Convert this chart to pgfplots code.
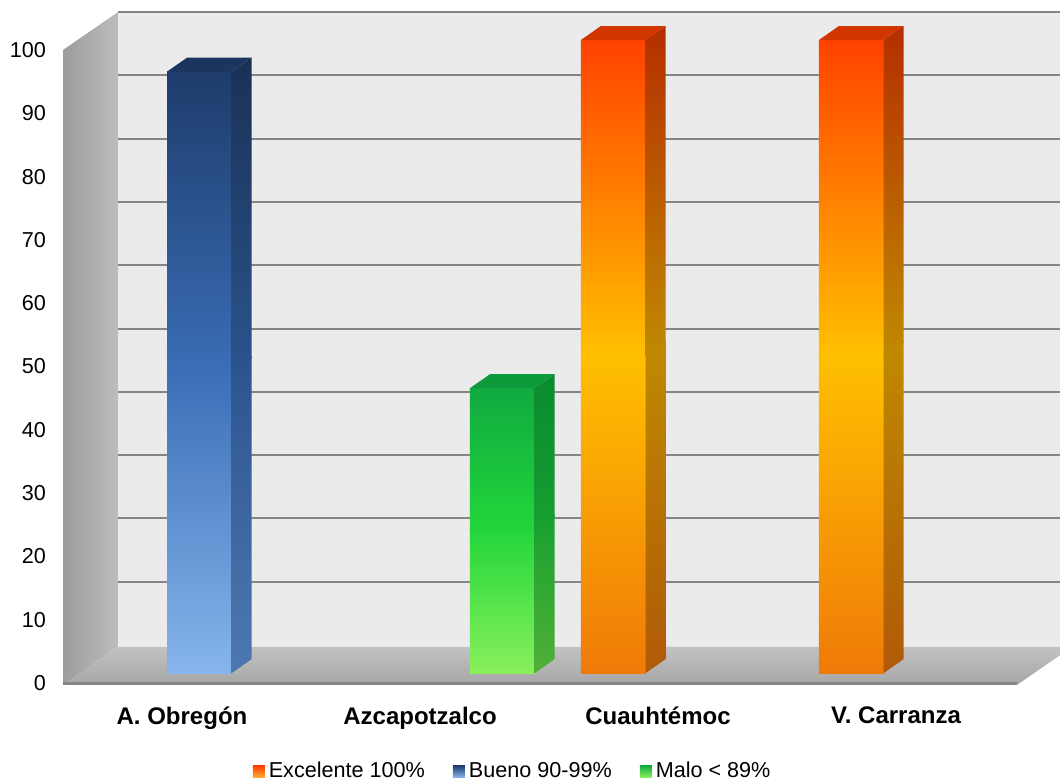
\documentclass[border=0pt]{standalone}
\usepackage{fontspec}
\setmainfont{Liberation Sans}
\usepackage{pgfplots}
\pgfplotsset{compat=1.18}

\definecolor{excTop}{HTML}{FF4200}
\definecolor{excMid}{HTML}{FFC000}
\definecolor{excBot}{HTML}{F07A08}
\definecolor{excSTop}{HTML}{B52E00}
\definecolor{excSMid}{HTML}{C08A00}
\definecolor{excSBot}{HTML}{B05A08}
\definecolor{excCap}{HTML}{D23600}
\definecolor{bueTop}{HTML}{1E3C6C}
\definecolor{bueMid}{HTML}{3A6EB6}
\definecolor{bueBot}{HTML}{86B5EC}
\definecolor{bueSTop}{HTML}{1A3155}
\definecolor{bueSMid}{HTML}{2B548E}
\definecolor{bueSBot}{HTML}{4E78B0}
\definecolor{bueCap}{HTML}{1C355E}
\definecolor{malTop}{HTML}{10AA40}
\definecolor{malMid}{HTML}{22D63A}
\definecolor{malBot}{HTML}{88F05C}
\definecolor{malSTop}{HTML}{0A8A30}
\definecolor{malSMid}{HTML}{18A030}
\definecolor{malSBot}{HTML}{50B038}
\definecolor{malCap}{HTML}{0D9A3A}
\definecolor{wallBack}{HTML}{EBEBEB}
\definecolor{wallLeftA}{HTML}{9C9C9C}
\definecolor{wallLeftB}{HTML}{BDBDBD}
\definecolor{floorFront}{HTML}{A6A6A6}
\definecolor{floorBack}{HTML}{C2C2C2}
\definecolor{gridgray}{HTML}{858585}
\definecolor{legExcTop}{HTML}{FF3A00}
\definecolor{legExcBot}{HTML}{FFB030}

\pgfplotsset{
  exc front lo/.style={top color=excMid, bottom color=excBot},
  exc front hi/.style={top color=excTop, bottom color=excMid},
  exc side lo/.style={top color=excSMid, bottom color=excSBot},
  exc side hi/.style={top color=excSTop, bottom color=excSMid},
  exc cap/.style={fill=excCap},
  bue front lo/.style={top color=bueMid, bottom color=bueBot},
  bue front hi/.style={top color=bueTop, bottom color=bueMid},
  bue side lo/.style={top color=bueSMid, bottom color=bueSBot},
  bue side hi/.style={top color=bueSTop, bottom color=bueSMid},
  bue cap/.style={fill=bueCap},
  mal front lo/.style={top color=malMid, bottom color=malBot},
  mal front hi/.style={top color=malTop, bottom color=malMid},
  mal side lo/.style={top color=malSMid, bottom color=malSBot},
  mal side hi/.style={top color=malSTop, bottom color=malSMid},
  mal cap/.style={fill=malCap},
}

% #1 = left edge of front face (category units), #2 = value, #3 = series style prefix
\newcommand\drawbar[3]{%
  \pgfmathsetmacro\bL{#1}%
  \pgfmathsetmacro\bR{#1+0.272}%
  \pgfmathsetmacro\bLd{#1+0.084}%
  \pgfmathsetmacro\bRd{#1+0.356}%
  \pgfmathsetmacro\bT{1.58+#2}%
  \pgfmathsetmacro\bM{1.58+#2/2}%
  \pgfmathsetmacro\bMo{1.58+#2/2+0.4}%
  \pgfmathsetmacro\bTd{3.79+#2}%
  \pgfmathsetmacro\bMd{3.79+#2/2}%
  \pgfmathsetmacro\bMdo{3.79+#2/2+0.4}%
  \edef\doit{%
    \noexpand\addplot[forget plot, draw=none, #3 front lo] coordinates {(\bL,1.58) (\bR,1.58) (\bR,\bMo) (\bL,\bMo)};
    \noexpand\addplot[forget plot, draw=none, #3 front hi] coordinates {(\bL,\bM) (\bR,\bM) (\bR,\bT) (\bL,\bT)};
    \noexpand\addplot[forget plot, draw=none, #3 side lo] coordinates {(\bR,1.58) (\bRd,3.79) (\bRd,\bMdo) (\bR,\bMo)};
    \noexpand\addplot[forget plot, draw=none, #3 side hi] coordinates {(\bR,\bM) (\bRd,\bMd) (\bRd,\bTd) (\bR,\bT)};
    \noexpand\addplot[forget plot, draw=none, #3 cap] coordinates {(\bL,\bT) (\bLd,\bTd) (\bRd,\bTd) (\bR,\bT)};
  }\doit}

\begin{document}
\begin{tikzpicture}
\useasboundingbox (0,0) rectangle (530pt,-391.5pt);
\begin{axis}[
  at={(31.5pt,-345pt)}, anchor=south west,
  scale only axis, width=498.5pt, height=345pt,
  xmin=-0.5, xmax=3.689, ymin=-1.1, ymax=107.9,
  clip=true,
  axis line style={draw=none},
  major tick length=0pt,
  ytick={0,10,...,100},
  xtick={0,1,2,3},
  xticklabels={A. Obregón, Azcapotzalco, Cuauhtémoc, V. Carranza},
  /pgf/number format/assume math mode=true,
  yticklabel style={font=\fontsize{10.8}{12}\selectfont, anchor=east, xshift=-5pt},
  xticklabel style={font=\fontsize{12}{14}\selectfont\bfseries, anchor=north, yshift=-5pt},
  legend style={at={(0.452,-0.118)}, anchor=center, draw=none, fill=none,
    font=\fontsize{10.8}{12}\selectfont,
    /tikz/every even column/.append style={column sep=12pt}},
  legend columns=3,
  legend cell align=left,
]
% back wall
\addplot[forget plot, draw=none, fill=wallBack] coordinates {(-0.269,5.7) (3.9,5.7) (3.9,106) (-0.269,106)};
% gridlines on back wall
\addplot[forget plot, color=gridgray, line width=1pt, unbounded coords=jump] coordinates {
  (-0.269,16) (3.9,16) (0,nan)
  (-0.269,26) (3.9,26) (0,nan)
  (-0.269,36) (3.9,36) (0,nan)
  (-0.269,46) (3.9,46) (0,nan)
  (-0.269,56) (3.9,56) (0,nan)
  (-0.269,66) (3.9,66) (0,nan)
  (-0.269,76) (3.9,76) (0,nan)
  (-0.269,86) (3.9,86) (0,nan)
  (-0.269,96) (3.9,96) (0,nan)
  (-0.269,106) (3.9,106)
};
% left wall
\addplot[forget plot, draw=none, left color=wallLeftA, right color=wallLeftB] coordinates {(-0.5,-0.3) (-0.5,100) (-0.269,106) (-0.269,5.7)};
% floor
\addplot[forget plot, draw=none, bottom color=floorFront, top color=floorBack] coordinates {(-0.5,-0.3) (3.508,-0.3) (3.739,5.7) (-0.269,5.7)};
% floor front edge
\addplot[forget plot, color=gridgray, line width=1.5pt] coordinates {(-0.5,-0.05) (3.508,-0.05)};

% bars: values 95 (Bueno), 45 (Malo), 100 (Excelente), 100 (Excelente)
\drawbar{-0.063}{95}{bue}
\drawbar{1.210}{45}{mal}
\drawbar{1.676}{100}{exc}
\drawbar{2.676}{100}{exc}

\addlegendimage{legend image code/.code={\shade[draw=none, top color=legExcTop, bottom color=legExcBot] (0pt,-3pt) rectangle (6pt,3pt);}}
\addlegendentry{Excelente 100\%}
\addlegendimage{legend image code/.code={\shade[draw=none, top color=bueTop, bottom color=bueBot] (0pt,-3pt) rectangle (6pt,3pt);}}
\addlegendentry{Bueno 90-99\%}
\addlegendimage{legend image code/.code={\shade[draw=none, top color=malTop, bottom color=malBot] (0pt,-3pt) rectangle (6pt,3pt);}}
\addlegendentry{Malo < 89\%}
\end{axis}
\end{tikzpicture}
\end{document}
